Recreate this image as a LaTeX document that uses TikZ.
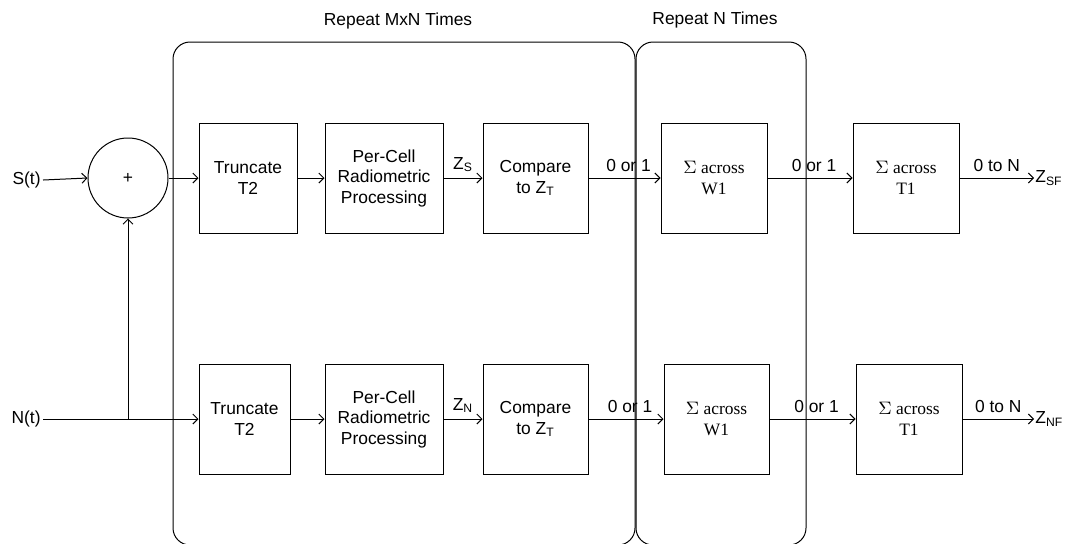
\documentclass[tikz,border=0pt]{standalone}
\usepackage{fontspec}
\setmainfont{Liberation Sans}
\newfontfamily\serifnum{Liberation Serif}
\usetikzlibrary{arrows.meta, positioning}

\begin{document}
\begin{tikzpicture}[x=0.5pt, y=-0.5pt,
    every node/.style={font=\fontsize{8.7}{10.25}\selectfont},
    block/.style={rectangle, draw=black, line width=0.5pt, minimum height=55pt, align=center, inner sep=1pt},
    sumblock/.style={block, font=\serifnum\fontsize{8.7}{10.25}\selectfont},
    adder/.style={circle, draw=black, line width=0.5pt, minimum size=40pt, inner sep=0pt},
    repeatbox/.style={draw=black, line width=0.5pt, rounded corners=8.5pt},
    signal/.style={-{Straight Barb[length=2.5pt, width=5pt]}, line width=0.5pt},
    wire/.style={line width=0.5pt},
    lbl/.style={above, inner sep=3pt}
]
    \useasboundingbox (0,0) rectangle (1079,543);

    % Repeat regions
    \draw[repeatbox] (173,42) rectangle (635,545);
    \draw[repeatbox] (636,42) rectangle (806,545);
    \node (mxntitle) at (398,21) {Repeat MxN Times};
    \node (ntitle) at (715,20) {Repeat N Times};

    % Signal path
    \node[anchor=east, inner sep=1pt] (sin) at (43,180) {S(t)};
    \node[adder] (sum) at (128,178) {+};
    \node[block, minimum width=49pt] (trunc1) at (248,178) {Truncate\\T2};
    \node[block, minimum width=59pt] (proc1) at (384,178) {Per-Cell\\Radiometric\\Processing};
    \node[block, minimum width=52.5pt] (comp1) at (535.5,178) {Compare\\to Z\textsubscript{T}};
    \node[sumblock, minimum width=53pt] (wsum1) at (714,178) {$\Sigma$ across\\W1};
    \node[sumblock, minimum width=53pt] (tsum1) at (906,178) {$\Sigma$ across\\T1};
    \node[anchor=west, inner sep=0.5pt] (zsf) at (1034,178) {Z\textsubscript{SF}};

    % Noise path
    \node[anchor=east, inner sep=1pt] (nin) at (43,419) {N(t)};
    \coordinate (join) at (128,419);
    \node[block, minimum width=45.5pt] (trunc2) at (244.5,419) {Truncate\\T2};
    \node[block, minimum width=59pt] (proc2) at (384,419) {Per-Cell\\Radiometric\\Processing};
    \node[block, minimum width=52.5pt] (comp2) at (535.5,419) {Compare\\to Z\textsubscript{T}};
    \node[sumblock, minimum width=52.5pt] (wsum2) at (716.5,419) {$\Sigma$ across\\W1};
    \node[sumblock, minimum width=53pt] (tsum2) at (909,419) {$\Sigma$ across\\T1};
    \node[anchor=west, inner sep=0.5pt] (znf) at (1034,419) {Z\textsubscript{NF}};

    % Connections
    \draw[signal] (sin.east) -- (sum.west);
    \draw[signal] (sum.east) -- (trunc1.west);
    \draw[signal] (trunc1.east) -- (proc1.west);
    \draw[signal] (proc1.east) -- node[lbl] {Z\textsubscript{S}} (comp1.west);
    \draw[signal] (comp1.east) -- node[lbl, xshift=2pt] {0 or 1} (wsum1.west);
    \draw[signal] (wsum1.east) -- node[lbl, xshift=2pt] {0 or 1} (tsum1.west);
    \draw[signal] (tsum1.east) -- node[lbl] {0 to N} (zsf.west);

    \draw[wire] (nin.east) -- (join);
    \draw[signal] (join) -- (trunc2.west);
    \draw[signal] (join) -- (sum.south);
    \draw[signal] (trunc2.east) -- (proc2.west);
    \draw[signal] (proc2.east) -- node[lbl] {Z\textsubscript{N}} (comp2.west);
    \draw[signal] (comp2.east) -- node[lbl, xshift=2pt] {0 or 1} (wsum2.west);
    \draw[signal] (wsum2.east) -- node[lbl, xshift=2pt] {0 or 1} (tsum2.west);
    \draw[signal] (tsum2.east) -- node[lbl] {0 to N} (znf.west);

\end{tikzpicture}
\end{document}
